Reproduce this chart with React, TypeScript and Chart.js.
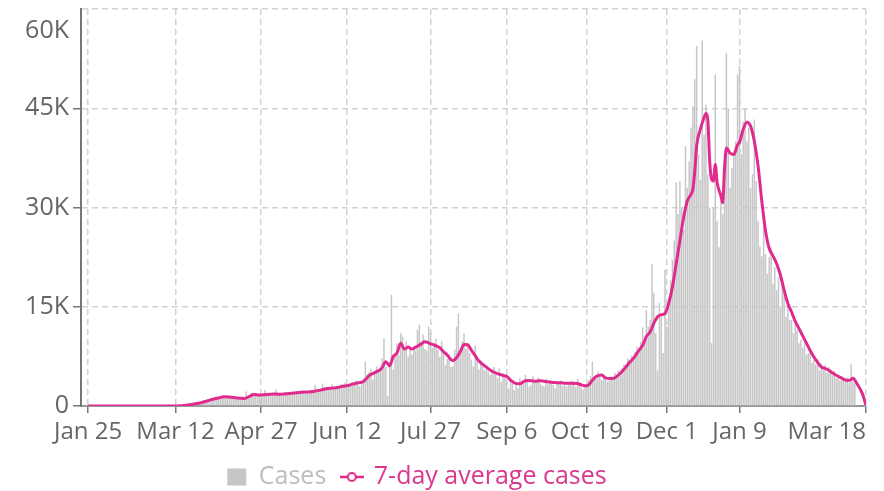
import { useEffect, useRef } from 'react';
import { Chart, registerables } from 'chart.js';

Chart.register(...registerables);

// X axis: days since Jan 25, 2020
const tickDays = [0, 47, 93, 139, 184, 225, 268, 311, 350, 418];
const tickLabels = ['Jan 25', 'Mar 12', 'Apr 27', 'Jun 12', 'Jul 27', 'Sep 6', 'Oct 19', 'Dec 1', 'Jan 9', 'Mar 18'];
const yTickValues = [0, 15000, 30000, 45000, 60000];

const seriesLabels = ['Cases', '7-day average cases'];

// Daily cases, one value per day starting Jan 25, 2020 (7 per row)
const dailyCases = [
  0, 0, 0, 0, 0, 0, 0,
  0, 0, 0, 0, 0, 0, 0,
  0, 0, 0, 0, 0, 0, 0,
  0, 0, 0, 0, 0, 0, 0,
  0, 0, 0, 0, 0, 0, 0,
  1, 2, 3, 5, 8, 10, 12,
  15, 20, 25, 35, 45, 60, 75,
  95, 120, 140, 180, 240, 290, 340,
  390, 450, 520, 600, 680, 760, 820,
  900, 1050, 980, 1120, 1200, 1280, 1240,
  1400, 1220, 1480, 1320, 1450, 1360, 1260,
  1180, 1100, 1260, 1150, 1300, 1080, 1190,
  1020, 2200, 1500, 1700, 2000, 1800, 1600,
  1500, 1800, 1700, 1600, 2400, 1750, 1700,
  1650, 1900, 1800, 2500, 2000, 1700, 1600,
  1800, 2100, 1900, 1950, 2000, 1850, 1900,
  2100, 2200, 1950, 2000, 2300, 2150, 2100,
  2000, 2400, 2300, 3200, 2700, 2350, 2300,
  3400, 2800, 2900, 2500, 2600, 3300, 2700,
  2600, 2900, 3100, 3300, 3200, 3500, 2800,
  3000, 3400, 3600, 3300, 3900, 3500, 3000,
  3400, 4200, 6700, 4800, 5100, 5600, 4000,
  5000, 6000, 5200, 5800, 7200, 10200, 5900,
  1500, 6500, 16800, 5500, 8000, 9500, 7800,
  11000, 10500, 8400, 9800, 7500, 8900, 7800,
  9000, 8400, 11500, 12300, 9400, 10800, 8600,
  8400, 12000, 11100, 8800, 9500, 10200, 8500,
  7400, 9800, 8300, 6200, 7100, 7800, 5900,
  6000, 8500, 12000, 14000, 8200, 9800, 11000,
  8600, 9500, 8000, 6900, 6000, 9100, 7100,
  5500, 6900, 6200, 5400, 5900, 5200, 4700,
  5300, 5900, 4800, 4200, 5700, 3700, 5000,
  4400, 3500, 2600, 3900, 3400, 2400, 3200,
  2700, 4200, 3700, 3600, 4700, 3800, 2900,
  3200, 4500, 3700, 3600, 4300, 3400, 3100,
  3000, 4100, 3300, 3800, 3700, 3200, 2700,
  3700, 3500, 3800, 3000, 3600, 2900, 3200,
  3400, 3800, 3300, 2900, 4100, 3100, 2800,
  2500, 3300, 3000, 3900, 4500, 6700, 4000,
  4100, 5200, 4500, 3900, 4600, 4200, 3700,
  3800, 4500, 4200, 5000, 4600, 5400, 5200,
  5700, 6300, 6000, 7200, 6800, 7600, 6900,
  8200, 9000, 8500, 9700, 11900, 10100, 14500,
  12000, 13000, 21500, 17100, 11000, 5400, 15600,
  13500, 8000, 20600, 12000, 16500, 19000, 22100,
  25000, 33800, 29000, 34000, 30000, 26700, 39300,
  33000, 37000, 42100, 45300, 49400, 54400, 38000,
  34200, 55200, 41000, 45500, 35000, 30000, 9500,
  30000, 50100, 28000, 24000, 31000, 29000, 37000,
  53400, 45000, 33000, 36000, 38500, 40000, 50100,
  51400, 38000, 43000, 45000, 40000, 42000, 33000,
  35000, 43300, 34000, 28000, 24100, 22600, 27200,
  23000, 20000, 22500, 24000, 18500, 21000, 17500,
  19500, 15000, 18500, 17000, 13500, 16000, 13000,
  13000, 11000, 12500, 11500, 9500, 10000, 8800,
  9600, 7800, 8000, 8200, 6500, 7000, 6200,
  7000, 5400, 6400, 5800, 6200, 5000, 5900,
  5000, 4600, 5300, 4200, 4700, 3800, 4500,
  4000, 3700, 4300, 3500, 6300, 3700, 3400,
  0, 0, 0, 0, 0, 0,
];

// 7-day average, read at selected days
const avgDays = [
  0, 45, 50, 55, 60, 65, 70, 73, 76, 80, 84, 87, 89, 92, 96, 100, 104, 108, 112, 116,
  121, 125, 128, 131, 134, 137, 139, 142, 144, 148, 151, 153, 155, 157, 158, 160, 162, 164, 166, 168,
  170, 172, 174, 176, 178, 181, 184, 187, 189, 191, 193, 195, 196, 198, 200, 202, 204, 206, 208, 210,
  213, 216, 219, 221, 223, 225, 227, 229, 232, 234, 236, 240, 243, 247, 250, 254, 257, 260, 263, 265,
  267, 269, 271, 273, 276, 278, 281, 283, 286, 289, 291, 293, 296, 298, 300, 302, 304, 306, 308, 310,
  312, 314, 316, 318, 320, 322, 324, 325, 326, 327, 329, 331, 332, 333, 334, 335, 336, 337, 338, 340,
  341, 342, 343, 345, 347, 349, 350, 352, 354, 356, 358, 360, 362, 364, 366, 368, 370, 372, 374, 376,
  378, 380, 382, 384, 386, 388, 390, 392, 394, 396, 398, 400, 402, 404, 406, 408, 410, 411, 413, 416,
  418,
];
const avgValues = [
  0, 0, 50, 200, 450, 850, 1200, 1380, 1350, 1200, 1150, 1500, 1750, 1650, 1750, 1800, 1780, 1900, 2000, 2100,
  2200, 2400, 2600, 2700, 2800, 3000, 3050, 3300, 3450, 3700, 4600, 4900, 5200, 5500, 5800, 6700, 6100, 7500, 8000, 9500,
  8600, 8900, 8600, 8900, 9200, 9700, 9400, 9100, 8800, 8200, 7700, 7000, 6870, 7300, 8200, 9300, 9250, 8400, 7600, 6800,
  6100, 5450, 5000, 4800, 4600, 4450, 3900, 3500, 3350, 3700, 3850, 3750, 3800, 3650, 3550, 3500, 3450, 3450, 3400, 3200,
  3050, 3200, 3900, 4450, 4700, 4250, 4150, 4250, 4950, 5900, 6600, 7200, 8400, 9200, 10500, 11200, 12500, 13500, 13800, 14000,
  15500, 18000, 21500, 25000, 28500, 31000, 32000, 32800, 35500, 39300, 41800, 43600, 44200, 43300, 37000, 34300, 34000, 36500, 33800, 31800,
  30700, 36000, 39000, 38200, 38000, 39500, 39800, 41800, 42900, 42300, 40000, 36300, 31000, 26500, 23800, 22700, 21500, 19800, 17500, 15500,
  14200, 12800, 11700, 10600, 9500, 8400, 7400, 6600, 5900, 5700, 5400, 5000, 4650, 4350, 4050, 3850, 4000, 4200, 3450, 1900,
  150,
];

const PINK = '#e02a8d';
const PINK_TEXT = '#d9388e';
const BAR_GRAY = '#c6c6c6';
const FONT = '"Open Sans", sans-serif';

const fmtY = (v: number) => (v === 0 ? '0' : `${v / 1000}K`);

export default function App() {
  const ref = useRef<HTMLCanvasElement>(null);

  useEffect(() => {
    const canvas = ref.current;
    if (!canvas) return;
    Chart.defaults.font.family = FONT;
    Chart.defaults.color = '#666';

    const marker = document.createElement('canvas');
    marker.width = 24;
    marker.height = 12;
    const mctx = marker.getContext('2d')!;
    mctx.strokeStyle = PINK;
    mctx.lineWidth = 2.5;
    mctx.beginPath();
    mctx.moveTo(0, 6);
    mctx.lineTo(24, 6);
    mctx.stroke();
    mctx.beginPath();
    mctx.arc(12, 6, 4, 0, Math.PI * 2);
    mctx.fillStyle = '#fff';
    mctx.fill();
    mctx.lineWidth = 2;
    mctx.stroke();

    const extraLabels = {
      id: 'extraLabels',
      afterDraw(chart: any) {
        const ctx = chart.ctx;
        const xs = chart.scales.x;
        const ys = chart.scales.y;
        ctx.save();
        ctx.fillStyle = '#666';
        ctx.textBaseline = 'middle';
        ctx.textAlign = 'right';
        ctx.font = `24px ${FONT}`;
        const last = tickDays.length - 1;
        ctx.fillText(tickLabels[last], xs.getPixelForValue(tickDays[last]), xs.top + 7 + 5 + 14.4);
        ctx.font = `25px ${FONT}`;
        const top = yTickValues[yTickValues.length - 1];
        ctx.fillText(fmtY(top), ys.right - 12, ys.getPixelForValue(top) + 22);
        ctx.restore();
      },
    };

    const chart = new Chart(canvas, {
      type: 'bar',
      data: {
        datasets: [
          {
            type: 'bar',
            label: seriesLabels[0],
            data: dailyCases.map((v, i) => ({ x: i, y: v })),
            backgroundColor: BAR_GRAY,
            borderWidth: 0,
            barPercentage: 0.8,
            categoryPercentage: 1,
            order: 2,
          } as any,
          {
            type: 'line',
            label: seriesLabels[1],
            data: avgDays.map((d, i) => ({ x: d, y: avgValues[i] })),
            borderColor: PINK,
            borderWidth: 3,
            pointRadius: 0,
            fill: false,
            cubicInterpolationMode: 'monotone',
            order: 1,
          } as any,
        ],
      },
      options: {
        responsive: false,
        animation: false,
        devicePixelRatio: 1,
        layout: { padding: { top: 9, left: -32, right: 18, bottom: -8.5 } },
        scales: {
          x: {
            type: 'linear',
            min: -3.8,
            max: 418,
            offset: false,
            afterBuildTicks: (s: any) => {
              s.ticks = tickDays.map((v) => ({ value: v }));
            },
            afterFit: (s: any) => {
              s.height = 42.5;
              s.paddingLeft = 0;
              s.paddingRight = 0;
            },
            ticks: {
              autoSkip: false,
              maxRotation: 0,
              minRotation: 0,
              padding: 5,
              color: '#666',
              font: { size: 24 },
              callback: (_v: any, i: number) => (i === tickLabels.length - 1 ? '' : tickLabels[i]),
            },
            grid: {
              offset: false,
              color: '#d2d2d2',
              lineWidth: 1.5,
              tickLength: 7,
              tickColor: '#777',
              tickWidth: 1.5,
            },
            border: { display: true, color: '#999', width: 2, dash: [6, 4] },
          } as any,
          y: {
            type: 'linear',
            position: 'left',
            min: 0,
            max: 60000,
            afterBuildTicks: (s: any) => {
              s.ticks = yTickValues.map((v) => ({ value: v }));
            },
            afterFit: (s: any) => {
              s.width = 113;
              s.paddingTop = 0;
              s.paddingBottom = 0;
            },
            ticks: {
              padding: 4,
              color: '#666',
              font: { size: 25 },
              callback: (v: any) => (v === yTickValues[yTickValues.length - 1] ? '' : fmtY(Number(v))),
            },
            grid: {
              color: '#d2d2d2',
              lineWidth: 1.5,
              tickLength: 8,
              tickWidth: 1.5,
              tickColor: (c: any) =>
                c.tick && c.tick.value === yTickValues[yTickValues.length - 1] ? 'rgba(0,0,0,0)' : '#777',
            },
            border: { display: true, color: '#777', width: 2, dash: [6, 4] },
          } as any,
        },
        plugins: {
          tooltip: { enabled: false },
          legend: {
            position: 'bottom',
            align: 'center',
            labels: {
              usePointStyle: true,
              pointStyleWidth: 19,
              boxHeight: 17,
              padding: 16,
              font: { size: 25 },
              generateLabels: () => [
                {
                  text: seriesLabels[0],
                  fillStyle: BAR_GRAY,
                  strokeStyle: BAR_GRAY,
                  lineWidth: 0,
                  pointStyle: 'rect',
                  fontColor: '#bdbdbd',
                  hidden: false,
                  datasetIndex: 0,
                } as any,
                {
                  text: seriesLabels[1],
                  fillStyle: PINK,
                  strokeStyle: PINK,
                  lineWidth: 0,
                  pointStyle: marker,
                  fontColor: PINK_TEXT,
                  hidden: false,
                  datasetIndex: 1,
                } as any,
              ],
            },
          } as any,
        },
      },
      plugins: [extraLabels],
    });

    return () => chart.destroy();
  }, []);

  return (
    <div style={{ position: 'fixed', left: 0, top: 0, width: 884, height: 491, background: '#fff' }}>
      <canvas ref={ref} width={884} height={491} style={{ display: 'block' }} />
    </div>
  );
}
